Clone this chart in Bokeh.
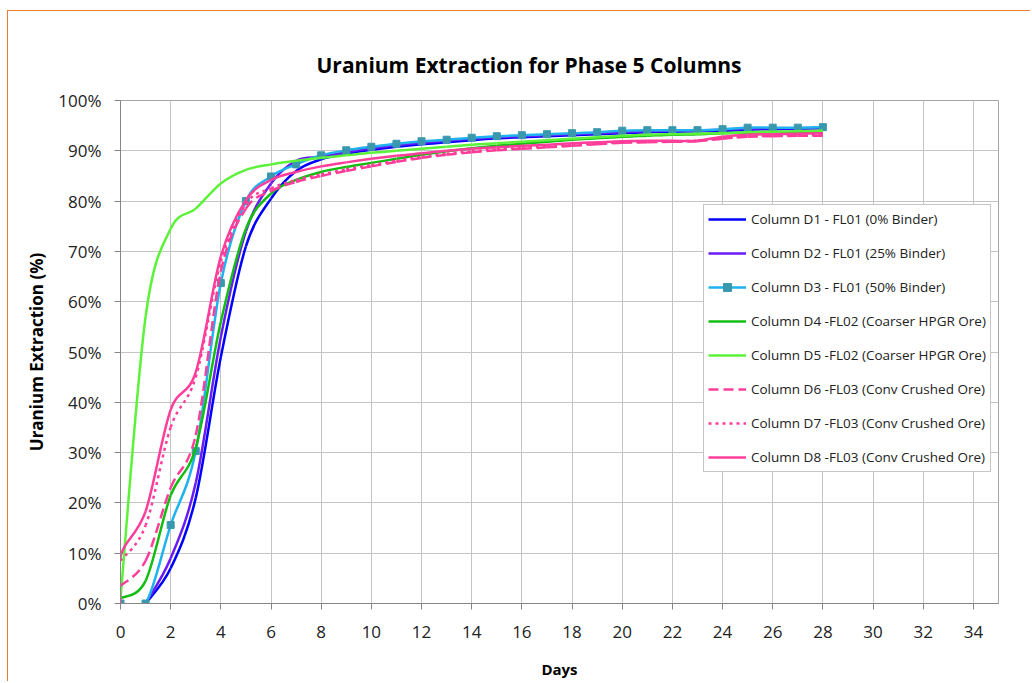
from bokeh.plotting import figure
from bokeh.models import (Range1d, Legend, LegendItem, PrintfTickFormatter,
                          FixedTicker, ColumnDataSource)
from bokeh.embed import file_html
from bokeh.resources import INLINE

# ---------------- data ----------------
days = list(range(0, 29))
days_d1 = list(range(1, 29))
days_d2 = list(range(1, 29))
days_d8 = [0, 0.02] + list(range(1, 29))

d1 = [0, 7, 21, 49, 71, 80.5, 86, 88.3, 89.4, 90.2, 90.8, 91.3, 91.7, 92.1,
      92.5, 92.7, 92.9, 93.1, 93.3, 93.5, 93.7, 93.8, 93.9, 94.0, 94.2, 94.3,
      94.4, 94.5]
d2 = [0, 9, 24, 53, 74, 83.5, 88.0, 88.8, 89.7, 90.5, 91.1, 91.6, 92.0, 92.4,
      92.7, 92.9, 93.1, 93.3, 93.5, 93.7, 93.9, 94.0, 94.0, 94.2, 94.4, 94.5,
      94.5, 94.6]
d3 = [0, 0, 15.6, 30.3, 63.7, 80.0, 84.9, 87.3, 89.1, 90.1, 90.8, 91.4, 91.9,
      92.2, 92.6, 92.9, 93.1, 93.3, 93.5, 93.7, 94.0, 94.1, 94.1, 94.1, 94.3,
      94.6, 94.6, 94.6, 94.7]
d4 = [1, 4.5, 21.5, 31, 56, 74.5, 81.5, 84.2, 85.8, 86.8, 87.6, 88.4, 89.2,
      89.9, 90.5, 91.0, 91.4, 91.8, 92.2, 92.5, 92.8, 93.0, 93.2, 93.3, 93.5,
      93.6, 93.7, 93.7, 93.8]
d5 = [1, 57, 74.5, 78.5, 83.5, 86.2, 87.3, 88.0, 88.6, 89.1, 89.6, 90.0, 90.4,
      90.8, 91.2, 91.5, 91.8, 92.1, 92.4, 92.7, 93.0, 93.2, 93.3, 93.4, 93.5,
      93.7, 93.8, 93.9, 94.0]
d6 = [3.5, 8.5, 23, 33.5, 66, 78.5, 82, 83.8, 85, 86, 86.9, 87.8, 88.6, 89.2,
      89.7, 90.1, 90.4, 90.7, 91.0, 91.3, 91.6, 91.7, 91.8, 91.9, 92.4, 92.8,
      92.9, 93.0, 93.0]
d7 = [8.5, 15.5, 35, 45, 68, 79.5, 82.5, 84.2, 85.3, 86.3, 87.2, 88.0, 88.8,
      89.4, 89.9, 90.3, 90.6, 90.9, 91.2, 91.5, 91.7, 91.8, 91.9, 92.0, 92.5,
      92.9, 93.0, 93.1, 93.1]
d8 = [0, 9.7, 18.3, 38.5, 46, 69, 80.2, 84.2, 85.8, 86.9, 87.7, 88.4, 89.0,
      89.5, 90.0, 90.4, 90.7, 91.0, 91.2, 91.5, 91.7, 91.9, 92.0, 92.0, 92.0,
      92.8, 93.2, 93.3, 93.4, 93.5]

labels = ["Column D1 - FL01 (0% Binder)",
          "Column D2 - FL01 (25% Binder)",
          "Column D3 - FL01 (50% Binder)",
          "Column D4 -FL02 (Coarser HPGR Ore)",
          "Column D5 -FL02 (Coarser HPGR Ore)",
          "Column D6 -FL03 (Conv Crushed Ore)",
          "Column D7 -FL03 (Conv Crushed Ore)",
          "Column D8 -FL03 (Conv Crushed Ore)"]
x_ticks = list(range(0, 35, 2))
y_ticks = list(range(0, 101, 10))

# ---------------- styles ----------------
colors = ["#0000FF", "#6A1BF5", "#1EB2EE", "#12BE12", "#5CF23A",
          "#FF3D9A", "#FF3D9A", "#FF3D9A"]
dashes = ["solid", "solid", "solid", "solid", "solid", "10 5", "3 4", "solid"]
FONT = "Open Sans"


def smooth_source(xs, ys):
    """Cubic Bezier segments (Excel-style smoothing) through the data points."""
    n = len(xs)
    d = {k: [] for k in ["x0", "y0", "x1", "y1", "cx0", "cy0", "cx1", "cy1"]}
    for i in range(n - 1):
        xp, yp = (xs[i - 1], ys[i - 1]) if i > 0 else (xs[i], ys[i])
        xn, yn = (xs[i + 2], ys[i + 2]) if i + 2 < n else (xs[i + 1], ys[i + 1])
        d["x0"].append(xs[i]); d["y0"].append(ys[i])
        d["x1"].append(xs[i + 1]); d["y1"].append(ys[i + 1])
        d["cx0"].append(xs[i] + (xs[i + 1] - xp) / 6.0)
        d["cy0"].append(ys[i] + (ys[i + 1] - yp) / 6.0)
        d["cx1"].append(xs[i + 1] - (xn - xs[i]) / 6.0)
        d["cy1"].append(ys[i + 1] - (yn - ys[i]) / 6.0)
    return ColumnDataSource(d)


p = figure(width=1023, height=671, output_backend="svg", toolbar_location=None,
           x_range=Range1d(0, 35), y_range=Range1d(0, 100),
           min_border_left=112, min_border_right=33, min_border_top=89,
           min_border_bottom=79)
p.styles = {"border-top": "1px solid #ED7D31", "border-left": "1px solid #ED7D31",
            "margin-left": "7px", "margin-top": "10px"}
p.background_fill_color = "white"
p.border_fill_color = "white"
p.outline_line_color = "#A6A6A6"

p.title.text = "Uranium Extraction for Phase 5 Columns"
p.title.text_font = FONT
p.title.text_font_size = "21px"
p.title.text_font_style = "bold"
p.title.text_color = "#000000"
p.title.align = "left"
p.title.offset = 196
p.title.standoff = 43

# axes
p.xaxis.ticker = FixedTicker(ticks=x_ticks)
p.yaxis.ticker = FixedTicker(ticks=y_ticks)
p.yaxis.formatter = PrintfTickFormatter(format="%d%%")
for ax in (p.xaxis[0], p.yaxis[0]):
    ax.axis_line_color = "#868686"
    ax.major_tick_line_color = "#868686"
    ax.major_tick_out = 6
    ax.major_tick_in = 0
    ax.minor_tick_line_color = None
    ax.major_label_text_font = FONT
    ax.major_label_text_font_size = "17px"
    ax.major_label_text_color = "#222222"
    ax.axis_label_text_font = FONT
    ax.axis_label_text_font_style = "bold"
    ax.axis_label_text_color = "#000000"
p.xaxis.axis_label = "Days"
p.xaxis.axis_label_text_font_size = "15px"
p.xaxis.major_label_standoff = 16
p.xaxis.axis_label_standoff = 18
p.yaxis.axis_label = "Uranium Extraction (%)"
p.yaxis.axis_label_text_font_size = "17px"
p.yaxis.major_label_standoff = 13
p.yaxis.axis_label_standoff = 7

p.xgrid.grid_line_color = "#C4C4C4"
p.ygrid.grid_line_color = "#C4C4C4"

series = [(days_d1, d1), (days_d2, d2), (days, d3), (days, d4), (days, d5),
          (days, d6), (days, d7), (days_d8, d8)]
items = []
for i, (xs, ys) in enumerate(series):
    src = smooth_source(xs, ys)
    r = p.bezier(x0="x0", y0="y0", x1="x1", y1="y1", cx0="cx0", cy0="cy0",
                 cx1="cx1", cy1="cy1", source=src, line_color=colors[i],
                 line_width=2.5, line_dash=dashes[i])
    rs = [r]
    if i == 2:
        m = p.scatter(xs, ys, marker="square", size=7, fill_color="#3A98AE",
                      line_color="#3A98AE")
        rs.append(m)
    items.append(LegendItem(label=labels[i], renderers=rs))

legend = Legend(items=items, location=(583, 131), padding=4, margin=0,
                spacing=14, glyph_width=38, glyph_height=20, label_height=20,
                label_standoff=5, label_text_font=FONT,
                label_text_font_size="13.5px", label_text_color="#222222",
                border_line_color="#8C8C8C", background_fill_color="white",
                background_fill_alpha=1.0)
p.add_layout(legend)

open("out.html", "w").write(file_html(p, INLINE))
